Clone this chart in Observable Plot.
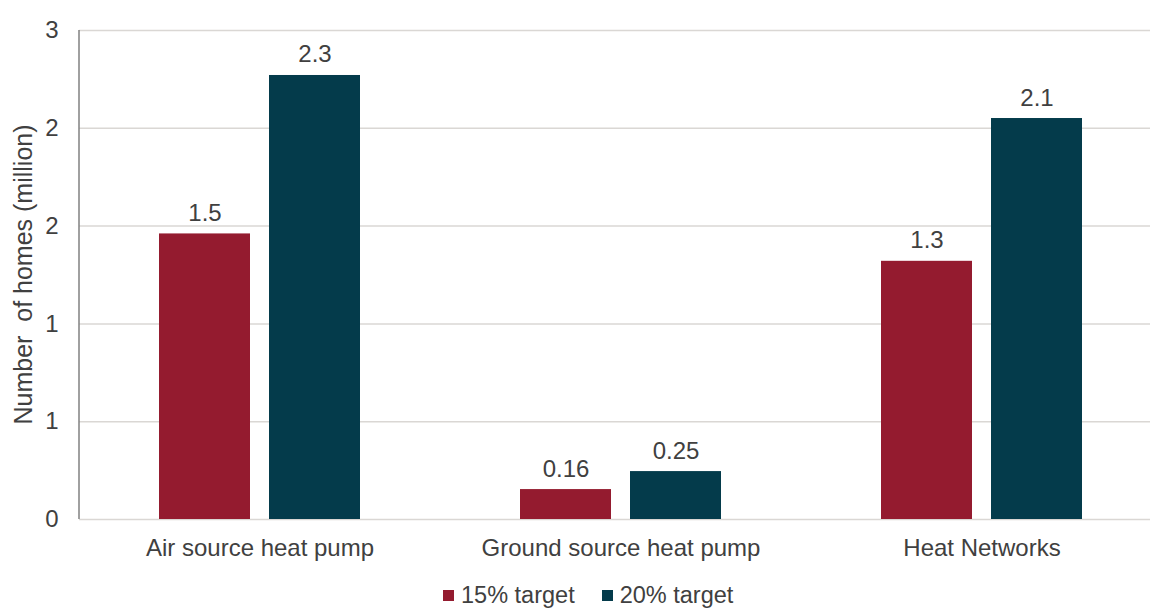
<!DOCTYPE html>
<html>
<head>
<meta charset="utf-8">
<script src="https://cdn.jsdelivr.net/npm/d3@7"></script>
<script src="https://cdn.jsdelivr.net/npm/@observablehq/plot@0.6"></script>
<style>
  html, body { margin: 0; padding: 0; background: #fff; overflow: hidden; }
  #wrap { position: relative; width: 1150px; height: 608px; overflow: hidden; font-family: "Liberation Sans", Arial, sans-serif; }
  #legend { position: absolute; left: 443px; top: 584px; display: flex; align-items: center; font-size: 23.5px; line-height: 1; color: #404040; }
  #legend .sw { width: 11px; height: 11px; display: inline-block; margin-right: 7px; }
  #legend .item { display: flex; align-items: center; margin-right: 27px; white-space: nowrap; }
</style>
</head>
<body>
<div id="wrap"><div id="chart"></div><div id="legend"></div></div>
<script>
const categories = ["Air source heat pump", "Ground source heat pump", "Heat Networks"];
const series = ["15% target", "20% target"];
const values15 = [1.46, 0.153, 1.32];
const values20 = [2.27, 0.245, 2.05];
const labels15 = ["1.5", "0.16", "1.3"];
const labels20 = ["2.3", "0.25", "2.1"];
const yTicks = [0, 0.5, 1, 1.5, 2, 2.5];
const yTickLabels = ["0", "1", "1", "2", "2", "3"];
const colors = ["#941B2F", "#043B4B"];
const yTitle = "Number  of homes (million)";

const data = [];
categories.forEach((c, i) => {
  data.push({category: c, series: series[0], value: values15[i], label: labels15[i]});
  data.push({category: c, series: series[1], value: values20[i], label: labels20[i]});
});

const textColor = "#404040";
const W = 1150, H = 572, ML = 79, MT = 30, MB = 53;

let decorDrawn = false;

const chart = Plot.plot({
  width: W,
  height: H,
  marginLeft: ML,
  marginRight: 0,
  marginTop: MT,
  marginBottom: MB,
  facet: {marginTop: 0, marginBottom: 0, marginLeft: 0, marginRight: 0},
  style: {fontFamily: "'Liberation Sans', Arial, sans-serif", fontSize: "24px", color: textColor, background: "#fff", overflow: "hidden"},
  fx: {domain: categories, padding: 0, label: null, range: [ML, W + 12]},
  x: {domain: series, paddingInner: 0.172, paddingOuter: 0.72, axis: null},
  y: {domain: [0, 2.5], axis: null},
  color: {domain: series, range: colors},
  marks: [
    Plot.gridY(yTicks, {stroke: "#DAD7D4", strokeOpacity: 1, strokeWidth: 1.5}),
    Plot.barY(data, {fx: "category", x: "series", y: "value", fill: "series"}),
    Plot.text(data, {fx: "category", x: "series", y: "value", text: "label", lineAnchor: "bottom", dy: -13, fill: textColor, fontSize: 24}),
    Plot.axisFx({anchor: "bottom", tickSize: 0, tickPadding: 19, label: null, fontSize: 24}),
    Plot.axisY(yTicks, {anchor: "left", tickSize: 0, tickPadding: 21, tickFormat: d => yTickLabels[yTicks.indexOf(d)], label: null, fontSize: 24}),
    (index, scales, values, dim) => {
      if (decorDrawn) return null;
      decorDrawn = true;
      const g = d3.create("svg:g");
      g.append("line")
        .attr("x1", dim.marginLeft).attr("x2", dim.marginLeft)
        .attr("y1", dim.marginTop).attr("y2", dim.height - dim.marginBottom)
        .attr("stroke", "#808080").attr("stroke-width", 1.5);
      g.append("text")
        .attr("transform", `translate(23,${(dim.marginTop + dim.height - dim.marginBottom) / 2}) rotate(-90)`)
        .attr("text-anchor", "middle").attr("dy", "0.35em")
        .attr("fill", textColor).attr("font-size", 25)
        .style("white-space", "pre")
        .text(yTitle);
      return g.node();
    }
  ]
});
document.getElementById("chart").appendChild(chart);

const legend = document.getElementById("legend");
series.forEach((s, i) => {
  const item = document.createElement("span");
  item.className = "item";
  const sw = document.createElement("span");
  sw.className = "sw";
  sw.style.background = colors[i];
  item.appendChild(sw);
  item.appendChild(document.createTextNode(s));
  legend.appendChild(item);
});
</script>
</body>
</html>
